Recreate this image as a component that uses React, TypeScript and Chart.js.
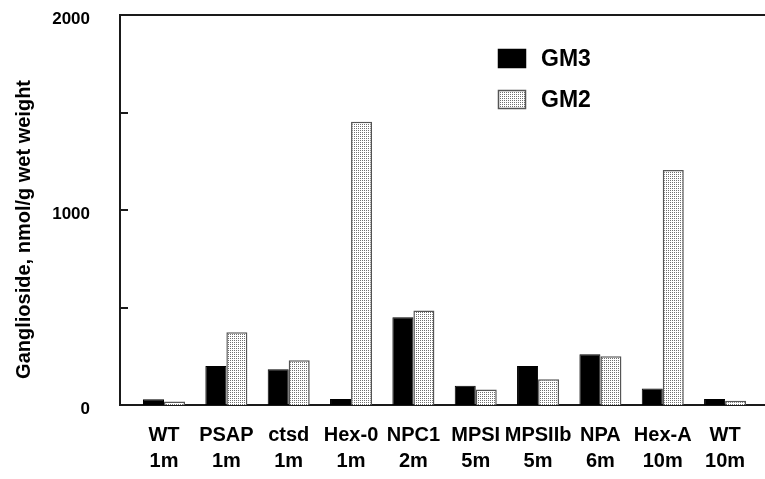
import React, { useEffect, useRef } from "react";
import { Chart, registerables } from "chart.js";

Chart.register(...registerables);

const categories = ["WT", "PSAP", "ctsd", "Hex-0", "NPC1", "MPSI", "MPSIIb", "NPA", "Hex-A", "WT"];
const ages = ["1m", "1m", "1m", "1m", "2m", "5m", "5m", "6m", "10m", "10m"];
const gm3 = [30, 200, 183, 31, 450, 99, 200, 260, 84, 31];
const gm2 = [18, 373, 229, 1452, 484, 79, 132, 250, 1205, 22];
const yTickLabels = [0, 1000, 2000];
const seriesNames = ["GM3", "GM2"];

const FONT = "'Liberation Sans', Arial, Helvetica, sans-serif";

function makePattern(ctx: CanvasRenderingContext2D): CanvasPattern | string {
  const c = document.createElement("canvas");
  c.width = 2;
  c.height = 2;
  const p = c.getContext("2d");
  if (!p) return "#ddd";
  p.fillStyle = "#ffffff";
  p.fillRect(0, 0, 2, 2);
  p.fillStyle = "#707070";
  p.fillRect(0, 0, 1, 1);
  return ctx.createPattern(c, "repeat") || "#ddd";
}

export default function App() {
  const ref = useRef<HTMLCanvasElement | null>(null);

  useEffect(() => {
    const canvas = ref.current;
    if (!canvas) return;
    const ctx = canvas.getContext("2d")!;
    const pattern = makePattern(ctx);

    const framePlugin = {
      id: "frame",
      afterDraw(chart: any) {
        const { ctx, chartArea } = chart;
        const y = chart.scales.y;
        ctx.save();
        ctx.strokeStyle = "#1a1a1a";
        ctx.lineWidth = 2;
        ctx.beginPath();
        ctx.moveTo(chartArea.left - 1, chartArea.top);
        ctx.lineTo(chartArea.right, chartArea.top);
        ctx.stroke();
        [500, 1000, 1500].forEach((v) => {
          const py = Math.round(y.getPixelForValue(v));
          ctx.beginPath();
          ctx.moveTo(chartArea.left, py);
          ctx.lineTo(chartArea.left + 8, py);
          ctx.stroke();
        });
        const lx = 498;
        const rows = [
          { y: 49, fill: "#000000", stroke: "#000000", name: seriesNames[0] },
          { y: 90, fill: pattern, stroke: "#555555", name: seriesNames[1] },
        ];
        rows.forEach((r) => {
          ctx.fillStyle = r.fill as any;
          ctx.fillRect(lx, r.y, 28, 19);
          ctx.lineWidth = 1.5;
          ctx.strokeStyle = r.stroke;
          ctx.strokeRect(lx + 0.5, r.y + 0.5, 27, 18);
          ctx.fillStyle = "#000";
          ctx.font = `bold 23px ${FONT}`;
          ctx.textBaseline = "middle";
          ctx.textAlign = "left";
          ctx.fillText(r.name, 541, r.y + 10.5);
        });
        ctx.restore();
      },
    };

    const chart = new Chart(ctx, {
      type: "bar",
      data: {
        datasets: [
          {
            label: seriesNames[0],
            data: gm3.map((v, i) => ({ x: i, y: v })),
            backgroundColor: "#000000",
            borderColor: "#000000",
            borderWidth: 1,
            categoryPercentage: 0.674,
            barPercentage: 1,
          },
          {
            label: seriesNames[1],
            data: gm2.map((v, i) => ({ x: i, y: v })),
            backgroundColor: pattern as any,
            borderColor: "#555555",
            borderWidth: 1.5,
            categoryPercentage: 0.674,
            barPercentage: 1,
          },
        ],
      },
      options: {
        animation: false,
        responsive: false,
        layout: { padding: { top: 15, left: 0, right: 0, bottom: 0 } },
        plugins: {
          legend: { display: false },
          tooltip: { enabled: false },
        },
        scales: {
          x: {
            type: "linear",
            offset: false,
            min: -0.706,
            max: 9.64,
            afterBuildTicks: (scale: any) => {
              scale.ticks = categories.map((_, i) => ({ value: i }));
            },
            afterFit: (scale: any) => {
              scale.height = 74;
              scale.paddingLeft = 0;
              scale.paddingRight = 0;
            },
            grid: { display: false, drawTicks: false, offset: false },
            border: { display: true, color: "#1a1a1a", width: 2 },
            ticks: {
              autoSkip: false,
              maxRotation: 0,
              padding: 17,
              color: "#000",
              font: { family: FONT, size: 20, weight: "bold", lineHeight: 1.3 },
              callback: (v: any) => {
                const i = Number(v);
                return Number.isInteger(i) && categories[i] !== undefined ? [categories[i], ages[i]] : "";
              },
            },
          },
          y: {
            type: "linear",
            min: 0,
            max: 2000,
            afterBuildTicks: (scale: any) => {
              scale.ticks = yTickLabels.map((v) => ({ value: v }));
            },
            afterFit: (scale: any) => {
              scale.width = 120;
              scale.paddingTop = 0;
              scale.paddingBottom = 0;
            },
            grid: { display: false, drawTicks: false },
            border: { display: true, color: "#1a1a1a", width: 2 },
            ticks: {
              padding: 30,
              labelOffset: 4,
              color: "#000",
              font: { family: FONT, size: 17, weight: "bold" },
              callback: (v: any) => String(v),
            },
            title: {
              display: true,
              text: "Ganglioside, nmol/g wet weight       ",
              color: "#000",
              font: { family: FONT, size: 20, weight: "bold", lineHeight: 1.2 },
              padding: { top: 12, bottom: 0 },
            },
          },
        },
      },
      plugins: [framePlugin],
    });

    return () => chart.destroy();
  }, []);

  return (
    <div style={{ position: "fixed", left: 0, top: 0, width: 765, height: 479, background: "#fff" }}>
      <canvas ref={ref} width={765} height={479} style={{ display: "block" }} />
    </div>
  );
}
